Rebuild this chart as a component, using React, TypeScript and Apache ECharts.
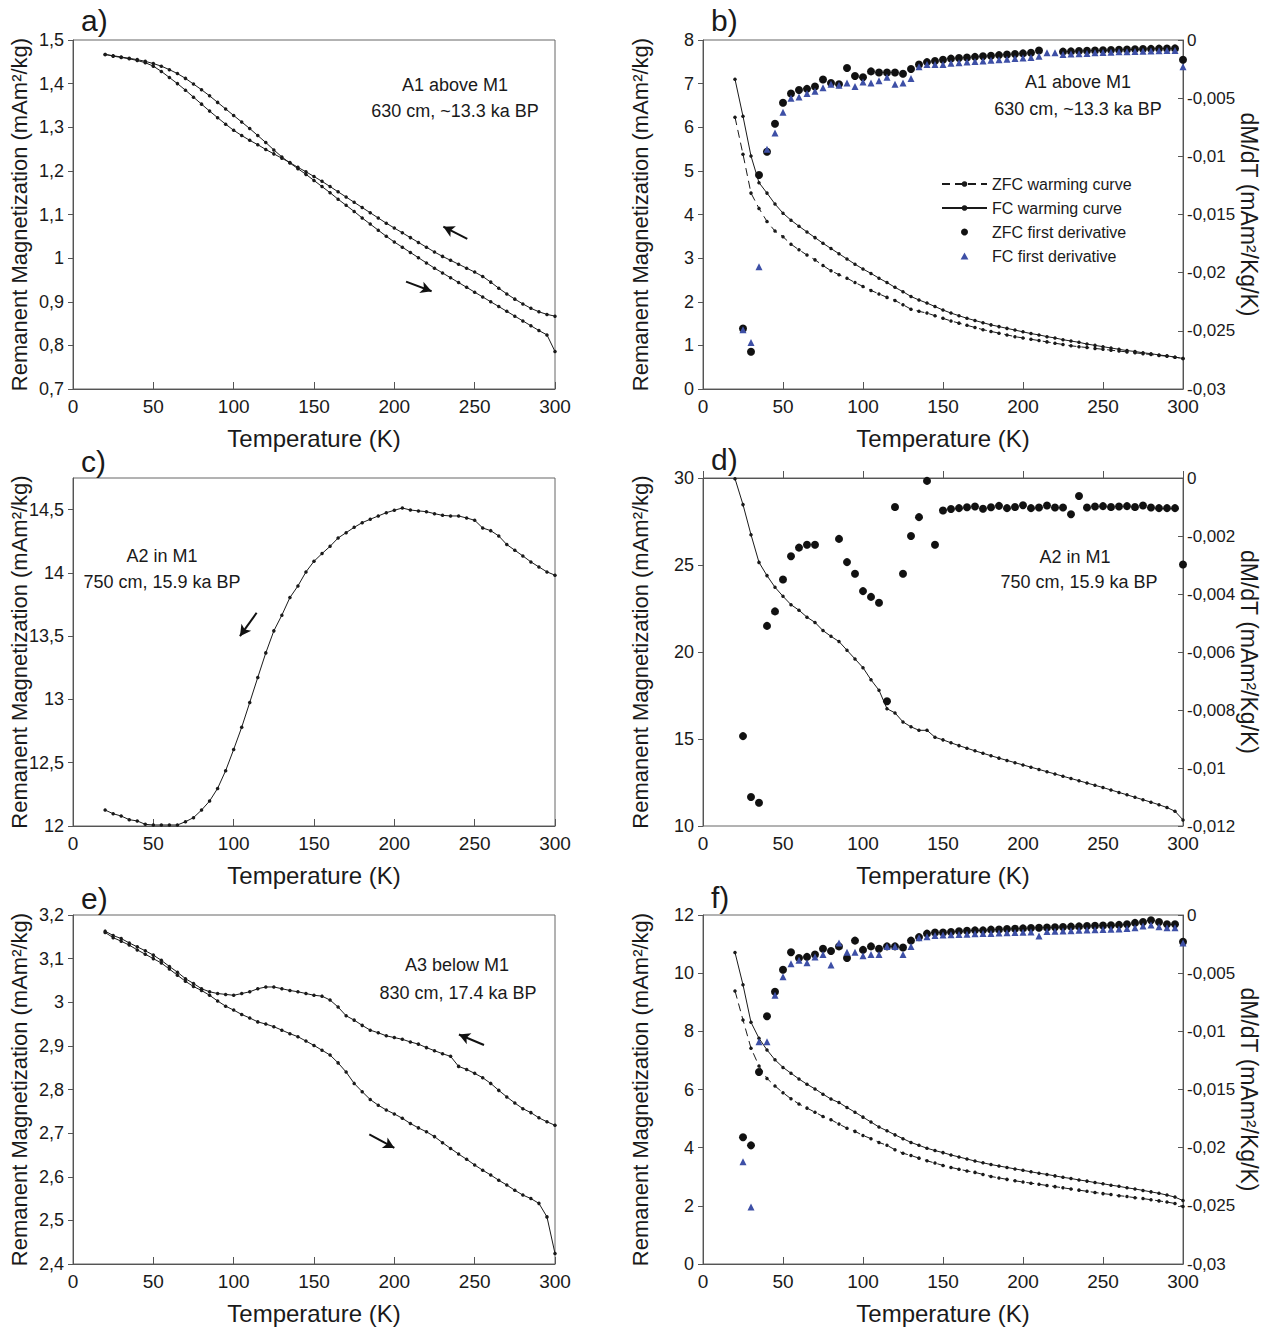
import React, { useEffect, useRef } from "react";
import * as echarts from "echarts";

// temperature steps (K), shared by every curve
const temps = [
  20, 25, 30, 35, 40, 45, 50, 55, 60, 65, 70, 75, 80, 85, 90, 95, 100, 105, 110, 115,
  120, 125, 130, 135, 140, 145, 150, 155, 160, 165, 170, 175, 180, 185, 190, 195, 200, 205,
  210, 215, 220, 225, 230, 235, 240, 245, 250, 255, 260, 265, 270, 275, 280, 285, 290, 295, 300,
];

// a) A1 above M1
const aWarming = [
  1.467, 1.464, 1.461, 1.458, 1.455, 1.451, 1.446, 1.44, 1.432, 1.423,
  1.412, 1.399, 1.386, 1.372, 1.357, 1.342, 1.327, 1.312, 1.297, 1.281,
  1.265, 1.248, 1.232, 1.218, 1.205, 1.192, 1.178, 1.164, 1.15, 1.135,
  1.121, 1.107, 1.092, 1.078, 1.064, 1.05, 1.037, 1.025, 1.013, 1.001,
  0.989, 0.977, 0.966, 0.955, 0.944, 0.933, 0.922, 0.911, 0.9, 0.889,
  0.878, 0.867, 0.856, 0.845, 0.834, 0.824, 0.786,
];
const aCooling = [
  1.467, 1.463, 1.46, 1.457, 1.453, 1.448, 1.44, 1.428, 1.414, 1.4,
  1.385, 1.369, 1.353, 1.337, 1.322, 1.307, 1.293, 1.281, 1.27, 1.26,
  1.249, 1.239, 1.229, 1.219, 1.208, 1.198, 1.187, 1.176, 1.164, 1.152,
  1.14, 1.128, 1.116, 1.104, 1.092, 1.08, 1.069, 1.058, 1.047, 1.036,
  1.025, 1.014, 1.004, 0.995, 0.986, 0.977, 0.968, 0.958, 0.945, 0.931,
  0.918, 0.906, 0.895, 0.885, 0.877, 0.871, 0.867,
];

// b) A1 above M1, ZFC / FC
const bFc = [
  7.1, 6.25, 5.34, 4.73, 4.49, 4.24, 4.03, 3.87, 3.73, 3.6,
  3.47, 3.34, 3.22, 3.1, 2.98, 2.86, 2.75, 2.65, 2.54, 2.44,
  2.33, 2.23, 2.12, 2.04, 1.97, 1.89, 1.81, 1.74, 1.68, 1.62,
  1.57, 1.52, 1.47, 1.43, 1.39, 1.35, 1.31, 1.27, 1.24, 1.2,
  1.17, 1.13, 1.1, 1.07, 1.03, 1.0, 0.97, 0.94, 0.91, 0.88,
  0.86, 0.83, 0.81, 0.78, 0.76, 0.73, 0.7,
];
const bZfc = [
  6.23, 5.38, 4.49, 4.14, 3.84, 3.62, 3.49, 3.32, 3.19, 3.07,
  2.96, 2.83, 2.71, 2.62, 2.54, 2.44, 2.35, 2.26, 2.18, 2.1,
  2.03, 1.93, 1.83, 1.78, 1.74, 1.68, 1.62, 1.56, 1.51, 1.46,
  1.41, 1.36, 1.32, 1.28, 1.24, 1.2, 1.17, 1.14, 1.11, 1.08,
  1.05, 1.02, 0.99, 0.97, 0.95, 0.93, 0.91, 0.89, 0.87, 0.85,
  0.83, 0.81, 0.79, 0.77, 0.75, 0.73, 0.7,
];
const bZfcDeriv = [
  null, -0.0248, -0.0268, -0.0116, -0.0096, -0.0072, -0.0054, -0.0046, -0.0043, -0.0042,
  -0.004, -0.0034, -0.0037, -0.0038, -0.0024, -0.0031, -0.0032, -0.0027, -0.0028, -0.0028,
  -0.0028, -0.0029, -0.0025, -0.0021, -0.0019, -0.0018, -0.0017, -0.0016, -0.00155, -0.0015,
  -0.00145, -0.0014, -0.00135, -0.0013, -0.00125, -0.0012, -0.00115, -0.0011, -0.0009, null,
  null, -0.001, -0.00098, -0.00095, -0.00093, -0.0009, -0.00088, -0.00086, -0.00084, -0.00082,
  -0.0008, -0.00078, -0.00076, -0.00074, -0.00073, -0.00072, -0.0017,
];
const bFcDeriv = [
  null, -0.0249, -0.026, -0.0195, -0.0094, -0.008, -0.0062, -0.005, -0.0049, -0.0046,
  -0.0044, -0.0041, -0.0038, -0.0039, -0.0037, -0.004, -0.0036, -0.0037, -0.0035, -0.0032,
  -0.0038, -0.0037, -0.0033, -0.0023, -0.0021, -0.0021, -0.0021, -0.002, -0.00195, -0.0019,
  -0.00185, -0.0018, -0.00175, -0.0017, -0.00165, -0.0016, -0.00155, -0.0015, -0.0014, -0.0011,
  -0.0011, -0.00125, -0.0012, -0.00118, -0.00115, -0.0011, -0.00108, -0.00105, -0.00102, -0.001,
  -0.00098, -0.00096, -0.00094, -0.00092, -0.0009, -0.0009, -0.0023,
];

// c) A2 in M1
const cCooling = [
  12.126, 12.097, 12.079, 12.05, 12.04, 12.013, 12.008, 12.008, 12.008, 12.008,
  12.034, 12.066, 12.126, 12.197, 12.297, 12.437, 12.605, 12.78, 12.976, 13.174,
  13.368, 13.542, 13.666, 13.805, 13.897, 14.008, 14.092, 14.153, 14.21, 14.276,
  14.318, 14.36, 14.397, 14.424, 14.45, 14.476, 14.495, 14.513, 14.497, 14.49,
  14.484, 14.468, 14.455, 14.45, 14.45, 14.434, 14.416, 14.355, 14.334, 14.292,
  14.224, 14.179, 14.134, 14.087, 14.047, 14.008, 13.982,
];

// d) A2 in M1, FC
const dFc = [
  29.96, 28.47, 26.74, 25.15, 24.39, 23.72, 23.2, 22.72, 22.4, 22.0,
  21.7, 21.23, 20.9, 20.6, 20.1, 19.6, 19.1, 18.4, 17.8, 16.74,
  16.5, 15.98, 15.7, 15.5, 15.5, 15.1, 14.95, 14.78, 14.62, 14.47,
  14.32, 14.18, 14.04, 13.9, 13.77, 13.64, 13.51, 13.38, 13.25, 13.12,
  12.99, 12.86, 12.73, 12.6, 12.47, 12.34, 12.21, 12.07, 11.93, 11.79,
  11.65, 11.51, 11.37, 11.22, 11.06, 10.85, 10.35,
];
const dZfcDeriv = [
  null, -0.0089, -0.011, -0.0112, -0.0051, -0.0046, -0.0035, -0.0027, -0.0024, -0.0023,
  -0.0023, null, null, -0.0021, -0.0029, -0.0033, -0.0039, -0.0041, -0.0043, -0.0077,
  -0.001, -0.0033, -0.002, -0.00135, -0.0001, -0.0023, -0.00112, -0.00107, -0.00104, -0.00101,
  -0.00098, -0.00106, -0.00101, -0.00096, -0.00104, -0.001, -0.00094, -0.00104, -0.00102, -0.00095,
  -0.00102, -0.00102, -0.00125, -0.00062, -0.00102, -0.00098, -0.00097, -0.001, -0.00098, -0.00097,
  -0.001, -0.00095, -0.00102, -0.00104, -0.00104, -0.00104, -0.00298,
];

// e) A3 below M1
const eCooling = [
  3.163, 3.153, 3.146, 3.136, 3.127, 3.118, 3.108, 3.096, 3.082, 3.069,
  3.054, 3.043, 3.031, 3.024, 3.02, 3.018, 3.016, 3.02, 3.024, 3.031,
  3.035, 3.035, 3.031, 3.027, 3.024, 3.02, 3.016, 3.014, 3.005, 2.989,
  2.969, 2.959, 2.947, 2.936, 2.93, 2.923, 2.919, 2.915, 2.909, 2.904,
  2.896, 2.889, 2.882, 2.876, 2.853, 2.846, 2.837, 2.827, 2.814, 2.798,
  2.783, 2.769, 2.756, 2.747, 2.735, 2.726, 2.718,
];
const eWarming = [
  3.16, 3.148, 3.14, 3.131, 3.12, 3.11, 3.1, 3.09, 3.076, 3.062,
  3.048, 3.036, 3.027, 3.016, 3.003, 2.991, 2.982, 2.972, 2.964, 2.955,
  2.95, 2.944, 2.936, 2.928, 2.921, 2.911, 2.901, 2.89, 2.879, 2.861,
  2.84, 2.814, 2.795, 2.777, 2.764, 2.753, 2.744, 2.734, 2.722, 2.712,
  2.703, 2.692, 2.678, 2.665, 2.652, 2.64, 2.627, 2.615, 2.604, 2.592,
  2.581, 2.569, 2.558, 2.55, 2.539, 2.508, 2.424,
];

// f) A3 below M1, ZFC / FC
const fFc = [
  10.71, 9.6, 8.31, 7.76, 7.36, 7.02, 6.76, 6.56, 6.36, 6.18,
  6.02, 5.84, 5.67, 5.55, 5.38, 5.22, 5.05, 4.88, 4.71, 4.58,
  4.44, 4.31, 4.18, 4.08, 3.98, 3.9, 3.83, 3.75, 3.68, 3.61,
  3.54, 3.48, 3.42, 3.37, 3.32, 3.27, 3.22, 3.17, 3.12, 3.08,
  3.03, 2.98, 2.94, 2.89, 2.85, 2.8, 2.76, 2.71, 2.67, 2.62,
  2.58, 2.53, 2.48, 2.43, 2.37, 2.3, 2.18,
];
const fZfc = [
  9.39, 8.39, 7.42, 6.81, 6.38, 6.12, 5.89, 5.68, 5.5, 5.36,
  5.22, 5.07, 4.96, 4.81, 4.67, 4.56, 4.42, 4.31, 4.18, 4.08,
  3.93, 3.81, 3.73, 3.64, 3.55, 3.47, 3.39, 3.32, 3.26, 3.2,
  3.15, 3.08, 3.01, 2.96, 2.91, 2.86, 2.82, 2.78, 2.74, 2.7,
  2.66, 2.62, 2.58, 2.54, 2.5, 2.46, 2.42, 2.39, 2.35, 2.32,
  2.28, 2.25, 2.21, 2.17, 2.13, 2.08, 1.98,
];
const fZfcDeriv = [
  null, -0.0191, -0.0198, -0.0135, -0.0087, -0.0066, -0.0047, -0.0032, -0.0037, -0.0036,
  -0.0034, -0.0029, -0.0031, -0.0027, -0.0037, -0.0022, -0.003, -0.0027, -0.0029, -0.0027,
  -0.0027, -0.0028, -0.0022, -0.0019, -0.0016, -0.0015, -0.0015, -0.00146, -0.0014, -0.00135,
  -0.00132, -0.00132, -0.00126, -0.00125, -0.0012, -0.00118, -0.00115, -0.00112, -0.0011, -0.00108,
  -0.00105, -0.00103, -0.001, -0.00098, -0.00095, -0.00093, -0.0009, -0.00088, -0.00085, -0.0008,
  -0.00068, -0.0006, -0.00045, -0.0006, -0.0008, -0.0008, -0.0023,
];
const fFcDeriv = [
  null, -0.0212, -0.0251, -0.0109, -0.0109, -0.0069, -0.0053, -0.0042, -0.0039, -0.0041,
  -0.0036, -0.0034, -0.0043, -0.0024, -0.0032, -0.0032, -0.0035, -0.0034, -0.0034, -0.0027,
  -0.0027, -0.0034, -0.0027, -0.00195, -0.00186, -0.00177, -0.00172, -0.0017, -0.00168, -0.00165,
  -0.00162, -0.0016, -0.00158, -0.00155, -0.00152, -0.0015, -0.00148, -0.00146, -0.0018, -0.00142,
  -0.0014, -0.00138, -0.00135, -0.00132, -0.0013, -0.00127, -0.00125, -0.00122, -0.0012, -0.00115,
  -0.0011, -0.00095, -0.00085, -0.001, -0.0011, -0.0011, -0.0024,
];

// direction arrows, [fromT, fromM, toT, toM] in data units
const arrowsA = [[245.4, 1.044, 230.5, 1.072], [207.3, 0.946, 223.2, 0.924]];
const arrowsC = [[114.3, 13.685, 103.9, 13.5]];
const arrowsE = [[255.8, 2.902, 240.2, 2.926], [184.4, 2.697, 200.0, 2.666]];

const FONT = '"Liberation Sans", Arial, sans-serif';
const AXIS = "#555";
const INK = "#1a1a1a";
const BLUE = "#3d4fa6";

const grids = [
  { left: 73, top: 40, width: 482, height: 349 },
  { left: 703, top: 40, width: 480, height: 349 },
  { left: 73, top: 478, width: 482, height: 348 },
  { left: 703, top: 478, width: 480, height: 348 },
  { left: 73, top: 915, width: 482, height: 349 },
  { left: 703, top: 915, width: 480, height: 349 },
];

const comma = (v: number) => String(Number(v.toFixed(6))).replace(".", ",");

const pairs = (ys: (number | null)[]) =>
  temps.map((t, i) => [t, ys[i]]).filter((p) => p[1] !== null);

const leftY = (gridIndex: number, min: number, max: number, interval: number, gap: number, extra = {}) => ({
  type: "value",
  gridIndex,
  position: "left",
  min,
  max,
  interval,
  name: "Remanent Magnetization (mAm²/kg)",
  nameLocation: "middle",
  nameRotate: 90,
  nameGap: gap,
  nameMoveOverlap: false,
  nameTextStyle: { fontSize: 22, color: INK, fontFamily: FONT },
  axisLine: { show: true, lineStyle: { color: AXIS } },
  axisTick: { show: true, inside: false, length: 5, lineStyle: { color: AXIS } },
  axisLabel: { fontSize: 18, color: INK, fontFamily: FONT, margin: 9, formatter: comma },
  splitLine: { show: false },
  ...extra,
});

const rightY = (gridIndex: number, min: number, max: number, interval: number) => ({
  type: "value",
  gridIndex,
  position: "right",
  min,
  max,
  interval,
  name: "dM/dT (mAm²/Kg/K)",
  nameLocation: "middle",
  nameRotate: -90,
  nameGap: 54,
  nameMoveOverlap: false,
  nameTextStyle: { fontSize: 23, color: INK, fontFamily: FONT },
  axisLine: { show: true, lineStyle: { color: AXIS } },
  axisTick: { show: true, inside: true, length: 5, lineStyle: { color: AXIS } },
  axisLabel: { fontSize: 17, color: INK, fontFamily: FONT, margin: 4, formatter: comma },
  splitLine: { show: false },
});

const curve = (name: string, x: number, y: number, ys: number[], dashed = false, arrows?: number[][]) => ({
  name,
  type: "line",
  xAxisIndex: x,
  yAxisIndex: y,
  data: pairs(ys),
  symbol: "circle",
  symbolSize: 3.5,
  showAllSymbol: true,
  itemStyle: { color: INK },
  lineStyle: { color: INK, width: 1, type: dashed ? [8, 5] : "solid" },
  z: 3,
  markLine: arrows
    ? {
        silent: true,
        symbol: ["none", "arrow"],
        symbolSize: [9, 11],
        label: { show: false },
        lineStyle: { color: "#111", width: 2, type: "solid" },
        data: arrows.map(([x1, y1, x2, y2]) => [{ coord: [x1, y1] }, { coord: [x2, y2] }]),
      }
    : undefined,
});

const dots = (name: string, x: number, y: number, ys: (number | null)[], triangle = false) => ({
  name,
  type: "scatter",
  xAxisIndex: x,
  yAxisIndex: y,
  data: pairs(ys),
  symbol: triangle ? "triangle" : "circle",
  symbolSize: triangle ? 7 : 8,
  itemStyle: { color: triangle ? BLUE : "#111", opacity: 1 },
  z: triangle ? 5 : 4,
});

const panelLabels: [string, number, number][] = [
  ["a)", 81, 20], ["b)", 711, 20], ["c)", 81, 461],
  ["d)", 711, 459], ["e)", 81, 898], ["f)", 711, 897],
];
const notes: [string, number, number][] = [
  ["A1 above M1", 455, 85], ["630 cm, ~13.3 ka BP", 455, 111],
  ["A1 above M1", 1078, 82], ["630 cm, ~13.3 ka BP", 1078, 109],
  ["A2 in M1", 162, 556], ["750 cm, 15.9 ka BP", 162, 582],
  ["A2 in M1", 1075, 557], ["750 cm, 15.9 ka BP", 1079, 582],
  ["A3 below M1", 457, 965], ["830 cm, 17.4 ka BP", 458, 993],
];

const App = () => {
  const chartRef = useRef<HTMLDivElement>(null);

  useEffect(() => {
    if (!chartRef.current) return;
    const chart = echarts.init(chartRef.current, null, { renderer: "svg" });

    const option = {
      animation: false,
      backgroundColor: "#fff",
      textStyle: { fontFamily: FONT },
      grid: grids.map((g) => ({ ...g, show: true, borderColor: "#666", borderWidth: 1, backgroundColor: "transparent" })),
      xAxis: grids.map((_, i) => ({
        type: "value",
        gridIndex: i,
        min: 0,
        max: 300,
        interval: 50,
        name: "Temperature (K)",
        nameLocation: "middle",
        nameGap: 37,
        nameMoveOverlap: false,
        nameTextStyle: { fontSize: 24, color: INK, fontFamily: FONT },
        axisLine: { lineStyle: { color: AXIS } },
        axisTick: { inside: true, length: 7, lineStyle: { color: AXIS } },
        axisLabel: { fontSize: 19, color: INK, fontFamily: FONT, margin: 8 },
        splitLine: { show: false },
      })),
      yAxis: [
        leftY(0, 0.7, 1.5, 0.1, 43),
        leftY(1, 0, 8, 1, 52),
        rightY(1, -0.03, 0, 0.005),
        leftY(2, 12, 14.75, 0.5, 43, { axisLabel: { fontSize: 18, color: INK, fontFamily: FONT, margin: 9, formatter: comma, showMaxLabel: false } }),
        leftY(3, 10, 30, 5, 52),
        rightY(3, -0.012, 0, 0.002),
        leftY(4, 2.4, 3.2, 0.1, 43),
        leftY(5, 0, 12, 2, 52),
        rightY(5, -0.03, 0, 0.005),
      ],
      legend: {
        orient: "vertical",
        left: 941,
        top: 176,
        padding: 0,
        itemWidth: 45,
        itemHeight: 7,
        itemGap: 8,
        selectedMode: false,
        textStyle: { fontSize: 16, color: INK, fontFamily: FONT },
        data: [
          { name: "ZFC warming curve" },
          { name: "FC warming curve" },
          { name: "ZFC first derivative" },
          { name: "FC first derivative", icon: "path://M5,0L10,9L0,9Z" },
        ],
      },
      series: [
        curve("ZFC warming curve", 1, 1, bZfc, true),
        curve("FC warming curve", 1, 1, bFc),
        dots("ZFC first derivative", 1, 2, bZfcDeriv),
        dots("FC first derivative", 1, 2, bFcDeriv, true),
        curve("A1 warming", 0, 0, aWarming),
        curve("A1 cooling", 0, 0, aCooling, false, arrowsA),
        curve("A2 cooling", 2, 3, cCooling, false, arrowsC),
        curve("A2 FC warming", 3, 4, dFc),
        dots("A2 ZFC derivative", 3, 5, dZfcDeriv),
        curve("A3 warming", 4, 6, eWarming),
        curve("A3 cooling", 4, 6, eCooling, false, arrowsE),
        curve("A3 ZFC warming", 5, 7, fZfc, true),
        curve("A3 FC warming", 5, 7, fFc),
        dots("A3 ZFC derivative", 5, 8, fZfcDeriv),
        dots("A3 FC derivative", 5, 8, fFcDeriv, true),
      ],
      graphic: [
        ...panelLabels.map(([text, x, y]) => ({
          type: "text",
          x,
          y,
          silent: true,
          style: { text, fontSize: 30, fontFamily: FONT, fill: INK, align: "left", verticalAlign: "middle" },
        })),
        ...notes.map(([text, x, y]) => ({
          type: "text",
          x,
          y,
          silent: true,
          style: { text, fontSize: 18, fontFamily: FONT, fill: INK, align: "center", verticalAlign: "middle" },
        })),
      ],
    };

    chart.setOption(option);
    return () => {
      chart.dispose();
    };
  }, []);

  return (
    <div
      ref={chartRef}
      style={{ position: "absolute", left: 0, top: 0, width: "1265px", height: "1327px", background: "#fff" }}
    />
  );
};

export default App;
